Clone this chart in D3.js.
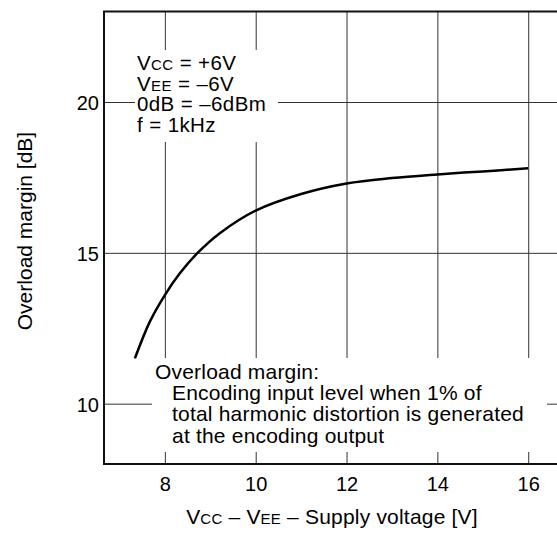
<!DOCTYPE html>
<html>
<head>
<meta charset="utf-8">
<script src="https://cdn.jsdelivr.net/npm/d3@7"></script>
<style>
  html, body { margin: 0; padding: 0; background: #fff; }
  svg { display: block; font-family: "Liberation Sans", Arial, Helvetica, sans-serif; }
</style>
</head>
<body>
<svg id="chart" width="557" height="533"></svg>
<script>
// ---- data ----
const supplyVoltage = [7.34, 7.67, 8, 8.33, 8.71, 9.21, 10, 11, 12, 13, 14, 15, 16];
const overloadMargin = [11.5, 12.72, 13.6, 14.32, 14.98, 15.65, 16.4, 16.95, 17.3, 17.48, 17.6, 17.7, 17.8];
const xTicks = [8, 10, 12, 14, 16];
const yTicks = [10, 15, 20];
const conditionLines = [
  [["V", false], ["CC", true], [" = +6V", false]],
  [["V", false], ["EE", true], [" = \u20136V", false]],
  [["0dB = \u20136dBm", false]],
  [["f = 1kHz", false]]
];
const noteLines = [
  "Overload margin:",
  "Encoding input level when 1% of",
  "total harmonic distortion is generated",
  "at the encoding output"
];

(function () {
// ---- layout ----
const svg = d3.select("#chart");
const pL = 104, pR = 560, pT = 11.5, pB = 464;
const x = d3.scaleLinear().domain([6.66, 16.7]).range([pL, pR]);
const y = d3.scaleLinear().domain([8, 23]).range([pB, pT]);

// grid via axes
const gx = svg.append("g").attr("transform", `translate(0,${pB})`)
  .call(d3.axisBottom(x).tickValues(xTicks).tickSize(-(pB - pT)).tickPadding(13).tickFormat(d3.format("d")));
gx.select(".domain").remove();
gx.selectAll(".tick line").attr("stroke", "#333").attr("stroke-width", 1);
gx.selectAll(".tick text").attr("font-size", 20).attr("fill", "#000").attr("font-family", "Liberation Sans, Arial, sans-serif");

const gy = svg.append("g").attr("transform", `translate(${pL},0)`)
  .call(d3.axisLeft(y).tickValues(yTicks).tickSize(-(pR - pL)).tickPadding(5).tickFormat(d3.format("d")));
gy.select(".domain").remove();
gy.selectAll(".tick line").attr("stroke", "#333").attr("stroke-width", 1);
gy.selectAll(".tick text").attr("font-size", 20).attr("fill", "#000").attr("dy", "0.38em").attr("font-family", "Liberation Sans, Arial, sans-serif");

// white backgrounds behind annotation texts
svg.append("rect").attr("x", 135).attr("y", 50).attr("width", 143).attr("height", 92).attr("fill", "#fff");
svg.append("rect").attr("x", 152).attr("y", 358).attr("width", 395).attr("height", 94).attr("fill", "#fff");

// frame
svg.append("rect").attr("x", pL).attr("y", pT).attr("width", pR - pL).attr("height", pB - pT)
  .attr("fill", "none").attr("stroke", "#111").attr("stroke-width", 2);

// curve
const pts = supplyVoltage.map((v, i) => [v, overloadMargin[i]]);
svg.append("path").datum(pts)
  .attr("fill", "none").attr("stroke", "#000").attr("stroke-width", 2.5)
  .attr("d", d3.line().x(d => x(d[0])).y(d => y(d[1])).curve(d3.curveCatmullRom.alpha(0.5)));

// condition text
const cond = svg.append("text").attr("font-size", 20.5).attr("letter-spacing", 0.4).attr("fill", "#000");
conditionLines.forEach((parts, i) => {
  parts.forEach((p, j) => {
    const t = cond.append("tspan").text(p[0]);
    if (j === 0) t.attr("x", 137).attr("y", 70 + i * 20.6);
    if (p[1]) t.attr("font-size", 15);
  });
});

// note text
const note = svg.append("text").attr("font-size", 21).attr("letter-spacing", 0.2).attr("fill", "#000");
noteLines.forEach((s, i) => {
  note.append("tspan").attr("x", i === 0 ? 155 : 172).attr("y", 378.5 + i * 21.4).text(s);
});

// axis titles
const xt = svg.append("text").attr("font-size", 21).attr("letter-spacing", 0.2).attr("fill", "#000")
  .attr("text-anchor", "middle").attr("x", 332).attr("y", 524);
xt.append("tspan").text("V");
xt.append("tspan").attr("font-size", 15).text("CC");
xt.append("tspan").text(" \u2013 V");
xt.append("tspan").attr("font-size", 15).text("EE");
xt.append("tspan").text(" \u2013 Supply voltage [V]");

svg.append("text").attr("font-size", 21).attr("fill", "#000")
  .attr("text-anchor", "middle")
  .attr("transform", "translate(32,231) rotate(-90)")
  .text("Overload margin [dB]");
})();
</script>
</body>
</html>
